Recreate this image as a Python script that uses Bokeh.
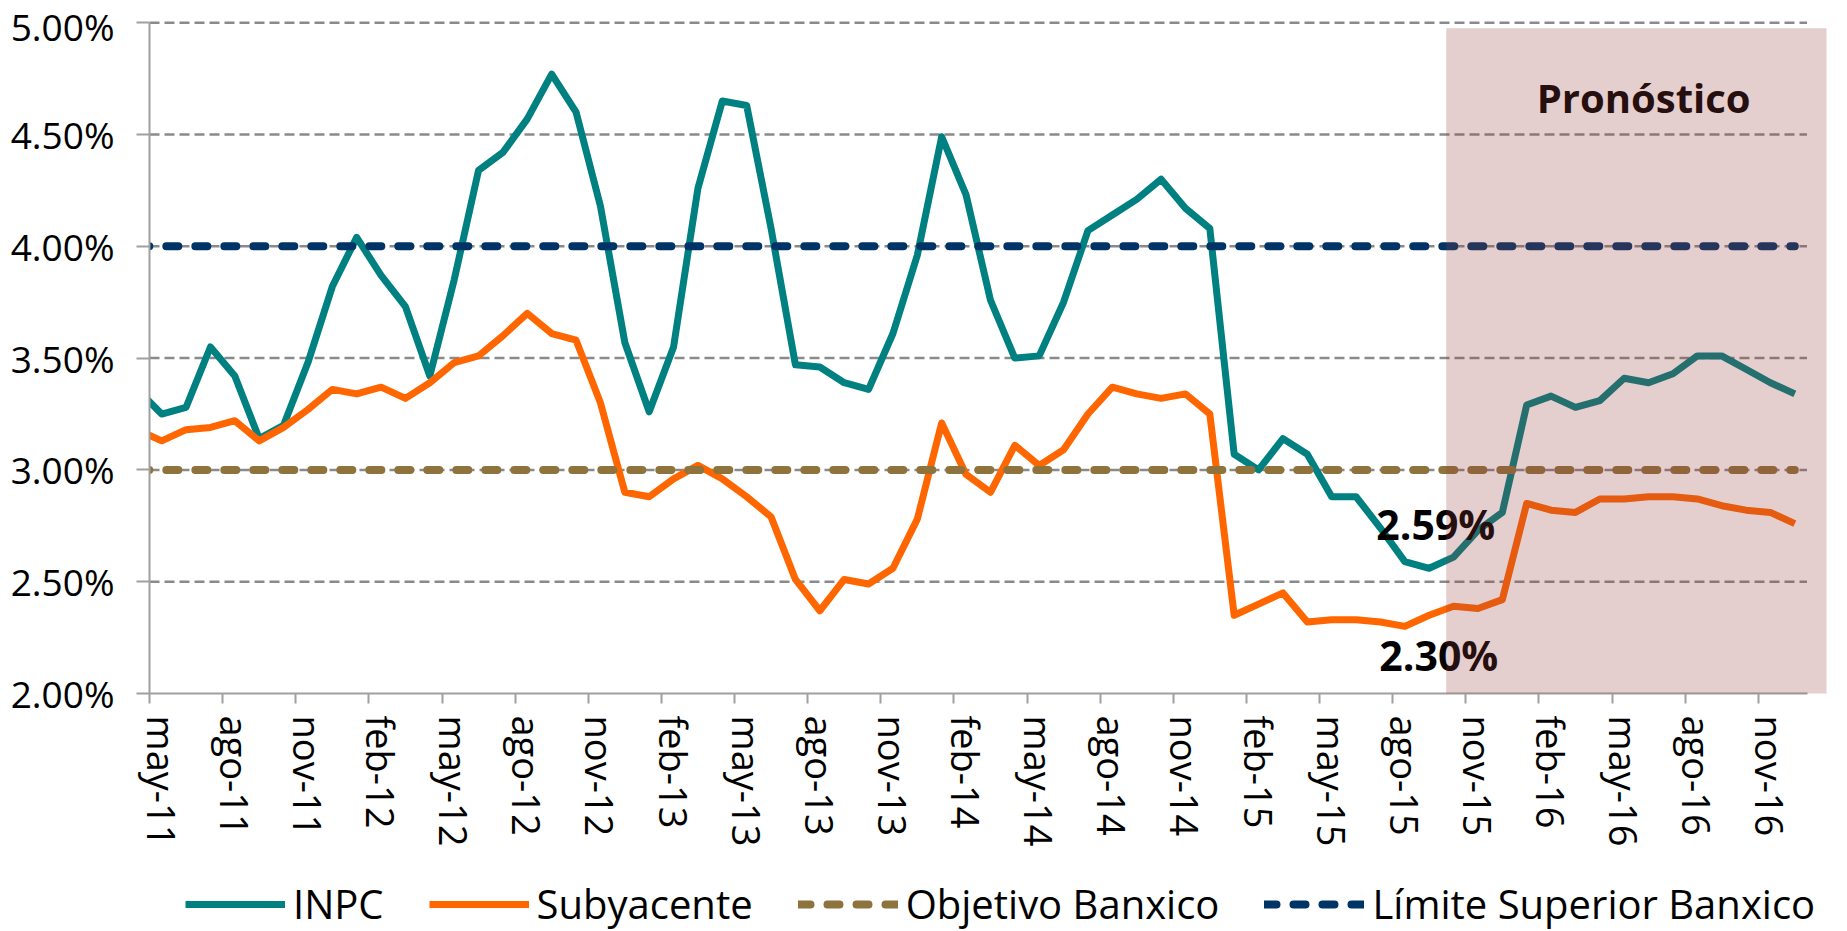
import numpy as np
from bokeh.plotting import figure
from bokeh.layouts import column
from bokeh.models import Range1d, FixedTicker, Legend, LegendItem, Label
from bokeh.core.properties import value
from bokeh.embed import file_html
from bokeh.resources import INLINE

# ---------------- data ----------------
# monthly values, first value = abr-11 (falls left of the axis, clipped), then may-11 ... dic-16
inpc = [3.36,
        3.25, 3.28, 3.55, 3.42, 3.14, 3.20, 3.48, 3.82,
        4.04, 3.87, 3.73, 3.42, 3.85, 4.34, 4.42, 4.57, 4.77, 4.60, 4.18, 3.57,
        3.26, 3.55, 4.26, 4.65, 4.63, 4.08, 3.47, 3.46, 3.39, 3.36, 3.61, 3.96,
        4.49, 4.23, 3.76, 3.50, 3.51, 3.75, 4.07, 4.14, 4.21, 4.30, 4.17, 4.08,
        3.07, 3.00, 3.14, 3.07, 2.88, 2.88, 2.74, 2.59, 2.56, 2.61, 2.73, 2.81,
        3.29, 3.33, 3.28, 3.31, 3.41, 3.39, 3.43, 3.51, 3.51, 3.45, 3.39, 3.34]
subyacente = [3.18,
        3.13, 3.18, 3.19, 3.22, 3.13, 3.19, 3.27, 3.36,
        3.34, 3.37, 3.32, 3.39, 3.48, 3.51, 3.60, 3.70, 3.61, 3.58, 3.30, 2.90,
        2.88, 2.96, 3.02, 2.96, 2.88, 2.79, 2.51, 2.37, 2.51, 2.49, 2.56, 2.78,
        3.21, 2.98, 2.90, 3.11, 3.02, 3.09, 3.25, 3.37, 3.34, 3.32, 3.34, 3.25,
        2.35, 2.40, 2.45, 2.32, 2.33, 2.33, 2.32, 2.30, 2.35, 2.39, 2.38, 2.42,
        2.85, 2.82, 2.81, 2.87, 2.87, 2.88, 2.88, 2.87, 2.84, 2.82, 2.81, 2.76]
objetivo = [3.0] * len(inpc)
limite = [4.0] * len(inpc)

x_tick_labels = ["may-11", "ago-11", "nov-11", "feb-12", "may-12", "ago-12", "nov-12",
                 "feb-13", "may-13", "ago-13", "nov-13", "feb-14", "may-14", "ago-14",
                 "nov-14", "feb-15", "may-15", "ago-15", "nov-15", "feb-16", "may-16",
                 "ago-16", "nov-16"]
y_ticks = [2, 2.5, 3, 3.5, 4, 4.5, 5]
y_tick_labels = ["2.00%", "2.50%", "3.00%", "3.50%", "4.00%", "4.50%", "5.00%"]
series_names = ["INPC", "Subyacente", "Objetivo Banxico", "Límite Superior Banxico"]

LAST_OBS = 52          # position in the arrays of ago-15 (last observed value)
N_CAT = 68             # may-11 ... dic-16

# ---------------- styles ----------------
FONT = "Open Sans"
C_INPC, C_SUB, C_OBJ, C_LIM = "#008080", "#FF6600", "#8E733D", "#003366"
styles = [dict(line_color=C_INPC, line_width=7, line_join="round"),
          dict(line_color=C_SUB, line_width=7, line_join="round"),
          dict(line_color=C_OBJ, line_width=8, line_dash="12 17", line_cap="round"),
          dict(line_color=C_LIM, line_width=8, line_dash="12 17", line_cap="round")]

x = np.arange(len(inpc)) - 0.5      # category centres: abr-11 -> -0.5, may-11 -> 0.5

p = figure(width=1839, height=862,
           x_range=Range1d(0, 68.8), y_range=Range1d(2.0, 5.01),
           output_backend="svg", toolbar_location=None,
           min_border_left=149, min_border_right=13,
           min_border_top=20, min_border_bottom=169)
p.outline_line_color = None
p.xgrid.visible = False
p.ygrid.visible = False

# dashed horizontal gridlines (stop at the end of the category axis)
grid_vals = [v for v in y_ticks if v > 2]
p.segment(x0=[0] * len(grid_vals), x1=[N_CAT] * len(grid_vals), y0=grid_vals, y1=grid_vals,
          line_color="#8a8a8a", line_width=2.5, line_dash="10 5")

for ys, st in zip([inpc, subyacente, objetivo, limite], styles):
    p.line(x, ys, **st)

# value labels at the last observed month
p.text(x=[x[LAST_OBS]], y=[inpc[LAST_OBS]], text=["%.2f%%" % inpc[LAST_OBS]],
       x_offset=31, y_offset=-38, text_align="center", text_baseline="middle",
       text_font=value(FONT), text_font_style="bold", text_font_size="41px", text_color="black")
p.text(x=[x[LAST_OBS]], y=[subyacente[LAST_OBS]], text=["%.2f%%" % subyacente[LAST_OBS]],
       x_offset=34, y_offset=29, text_align="center", text_baseline="middle",
       text_font=value(FONT), text_font_style="bold", text_font_size="41px", text_color="black")

# forecast shading
p.add_layout(Label(x=61.3, y=4.666, text="Pronóstico", text_align="center", text_baseline="middle",
                   text_font=FONT, text_font_style="bold", text_font_size="40px", text_color="black"))
p.quad(left=[53.2], right=[68.8], bottom=[2.0], top=[4.975],
       fill_color="#963C3C", fill_alpha=0.25, line_color=None, level="overlay")

# ---------------- axes ----------------
centres = [3 * k + 0.5 for k in range(len(x_tick_labels))]
bounds_ticks = [3 * k for k in range(len(x_tick_labels))]
p.xaxis.ticker = FixedTicker(ticks=centres, minor_ticks=bounds_ticks)
p.xaxis.major_label_overrides = {c: l for c, l in zip(centres, x_tick_labels)}
p.xaxis.bounds = (0, N_CAT)
p.xaxis.axis_line_color = "#a0a0a0"
p.xaxis.axis_line_width = 2
p.xaxis.major_tick_out = 0
p.xaxis.major_tick_in = 0
p.xaxis.minor_tick_out = 10
p.xaxis.minor_tick_in = 0
p.xaxis.minor_tick_line_color = "#a0a0a0"
p.xaxis.minor_tick_line_width = 2
p.xaxis.major_label_orientation = "vertical"
p.xaxis.major_label_standoff = 12
p.xaxis.major_label_text_font = FONT
p.xaxis.major_label_text_font_size = "38px"
p.xaxis.major_label_text_color = "black"

p.yaxis.ticker = FixedTicker(ticks=y_ticks, minor_ticks=[])
p.yaxis.major_label_overrides = {t: l for t, l in zip(y_ticks, y_tick_labels)}
p.yaxis.bounds = (2, 5)
p.yaxis.axis_line_color = "#a0a0a0"
p.yaxis.axis_line_width = 2
p.yaxis.major_tick_out = 13
p.yaxis.major_tick_in = 0
p.yaxis.major_tick_line_color = "#a0a0a0"
p.yaxis.major_tick_line_width = 2
p.yaxis.major_label_standoff = 22
p.yaxis.major_label_text_font = FONT
p.yaxis.major_label_text_font_size = "37px"
p.yaxis.major_label_text_color = "black"

# ---------------- legend strip (its frame is aligned with the main frame by the column) ----------------
lg = figure(width=1839, height=69, x_range=Range1d(0, 1), y_range=Range1d(0, 1),
            output_backend="svg", toolbar_location=None, x_axis_type=None, y_axis_type=None,
            min_border=0)
lg.outline_line_color = None
lg.xgrid.visible = False
lg.ygrid.visible = False
items = []
for name, st in zip(series_names, styles):
    # legend-only proxy renderer, positioned outside the strip's visible range
    r = lg.line([5, 6], [5, 5], **st)
    items.append(LegendItem(label=name, renderers=[r]))
legend = Legend(items=items, orientation="horizontal", location=(36, 0),
                glyph_width=100, glyph_height=30, label_height=30, label_standoff=8, spacing=45,
                padding=0, margin=0, border_line_color=None, background_fill_alpha=0,
                label_text_font=FONT, label_text_font_size="40px", label_text_color="black")
lg.add_layout(legend, "center")

open("out.html", "w").write(file_html(column(p, lg, spacing=0), INLINE))
